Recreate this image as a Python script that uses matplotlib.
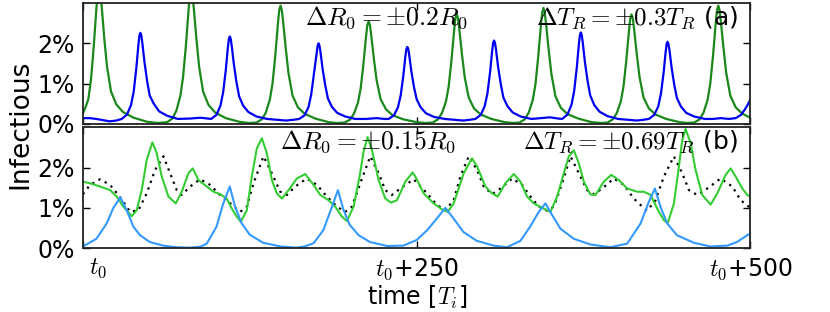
import matplotlib
matplotlib.use('Agg')
import matplotlib.pyplot as plt
import matplotlib.transforms as mtransforms
from matplotlib.ticker import FuncFormatter

plt.rcParams['mathtext.fontset'] = 'cm'
plt.rcParams['font.family'] = ['DejaVu Sans']

# ---- panel (a): infectious fraction in %, time in units of T_i ----
t_a_green = [0, 2, 4, 6, 8, 10, 11, 12, 13, 14, 16, 18, 21, 25, 30, 38, 48, 56,
             63, 67, 70, 73, 75, 77, 79, 80, 81, 82, 83, 85, 87, 90, 94, 99, 107, 117, 124,
             130, 134, 137, 140, 142, 144, 146, 147, 148, 149, 150, 152, 154, 157, 161, 166, 174, 184, 190,
             196, 200, 203, 206, 208, 210, 212, 213, 214, 215, 216, 218, 220, 223, 227, 232, 240, 250, 256,
             262, 266, 269, 272, 274, 276, 278, 279, 280, 281, 282, 284, 286, 289, 293, 298, 306, 316, 322,
             327, 331, 334, 337, 339, 341, 343, 344, 345, 346, 347, 349, 351, 354, 358, 363, 371, 381, 388,
             393, 397, 400, 403, 405, 407, 409, 410, 411, 412, 413, 415, 417, 420, 424, 429, 437, 447, 453,
             458, 462, 465, 468, 470, 472, 474, 475, 476, 477, 478, 480, 482, 485, 489, 494, 500]
y_a_green = [0.26, 0.42, 0.61, 1.1, 1.9, 2.85, 3.26, 3.4, 3.26, 2.92, 2.1, 1.42, 0.8, 0.48, 0.29, 0.15, 0.05, 0.02,
             0.04, 0.13, 0.33, 0.7, 1.17, 1.9, 2.81, 3.22, 3.35, 3.22, 2.88, 2.1, 1.42, 0.8, 0.47, 0.28, 0.14, 0.05, 0.02,
             0.03, 0.11, 0.28, 0.6, 1.0, 1.67, 2.47, 2.82, 2.94, 2.82, 2.52, 1.85, 1.25, 0.7, 0.41, 0.25, 0.13, 0.04, 0.02,
             0.03, 0.1, 0.25, 0.52, 0.87, 1.45, 2.14, 2.45, 2.55, 2.45, 2.19, 1.6, 1.08, 0.61, 0.36, 0.21, 0.11, 0.04, 0.02,
             0.03, 0.11, 0.27, 0.56, 0.93, 1.55, 2.29, 2.62, 2.73, 2.62, 2.34, 1.71, 1.16, 0.65, 0.38, 0.23, 0.12, 0.04, 0.02,
             0.03, 0.11, 0.28, 0.59, 0.98, 1.64, 2.41, 2.76, 2.88, 2.76, 2.47, 1.81, 1.23, 0.68, 0.4, 0.24, 0.13, 0.04, 0.02,
             0.03, 0.11, 0.27, 0.56, 0.93, 1.55, 2.28, 2.61, 2.72, 2.61, 2.33, 1.71, 1.16, 0.65, 0.38, 0.23, 0.12, 0.04, 0.02,
             0.03, 0.11, 0.28, 0.6, 1.0, 1.67, 2.47, 2.82, 2.94, 2.82, 2.52, 1.85, 1.25, 0.7, 0.41, 0.25, 0.15]

t_a_blue = [0, 5, 10, 15, 20, 25, 29, 33, 36, 38, 40, 41.5, 42.3, 43, 43.7, 44.5, 46, 48, 50, 53, 57, 63, 71, 80, 88,
            96, 100, 103, 105, 107, 108.5, 109.3, 110, 110.7, 111.5, 113, 115, 117, 120, 124, 130, 138, 145, 152, 158,
            162, 166, 169, 171, 173, 175, 175.8, 176.5, 177.2, 178, 179.5, 181.5, 183.5, 186.5, 190.5, 196.5, 204, 212, 220, 226,
            229, 233, 236, 238, 240, 241.5, 242.3, 243, 243.7, 244.5, 246, 248, 250, 253, 257, 263, 271, 278, 285, 290,
            294, 298, 301, 303, 305, 306.5, 307.3, 308, 308.7, 309.5, 311, 313, 315, 318, 322, 328, 336, 343, 350, 356,
            359, 363, 366, 368, 370, 371.5, 372.3, 373, 373.7, 374.5, 376, 378, 380, 383, 387, 393, 401, 408, 415, 420,
            424, 428, 431, 433, 435, 436.5, 437.3, 438, 438.7, 439.5, 441, 443, 445, 448, 452, 458, 466, 472, 478, 484,
            489, 493, 496, 498, 500]
y_a_blue = [0.14, 0.14, 0.12, 0.09, 0.06, 0.08, 0.12, 0.23, 0.47, 0.8, 1.4, 1.96, 2.2, 2.26, 2.2, 2.0, 1.55, 1.07,
            0.7, 0.5, 0.31, 0.2, 0.12, 0.13, 0.15,
            0.12, 0.22, 0.45, 0.78, 1.34, 1.88, 2.11, 2.17, 2.11, 1.92, 1.49, 1.03, 0.68, 0.45, 0.29, 0.18, 0.12, 0.1, 0.08, 0.1,
            0.12, 0.21, 0.42, 0.73, 1.24, 1.73, 1.94, 2.0, 1.94, 1.77, 1.37, 0.96, 0.63, 0.42, 0.27, 0.18, 0.12, 0.12, 0.14, 0.12,
            0.12, 0.21, 0.41, 0.7, 1.19, 1.66, 1.86, 1.91, 1.86, 1.69, 1.31, 0.91, 0.61, 0.41, 0.26, 0.17, 0.12, 0.1, 0.08, 0.1,
            0.12, 0.22, 0.44, 0.75, 1.28, 1.79, 2.01, 2.07, 2.01, 1.83, 1.42, 0.99, 0.65, 0.44, 0.28, 0.18, 0.12, 0.14, 0.16, 0.13,
            0.12, 0.23, 0.47, 0.81, 1.4, 1.97, 2.2, 2.27, 2.2, 2.01, 1.55, 1.08, 0.71, 0.47, 0.3, 0.19, 0.12, 0.1, 0.08, 0.1,
            0.12, 0.22, 0.43, 0.74, 1.26, 1.77, 1.98, 2.04, 1.98, 1.81, 1.4, 0.97, 0.64, 0.43, 0.27, 0.18, 0.12, 0.12, 0.14, 0.12,
            0.14, 0.22, 0.36, 0.47, 0.6]

# ---- panel (b) ----
t_b_blue = [0, 10, 17.75, 22.75, 28, 32.75, 37.75, 42.75, 50, 60,
            70, 80, 87.75, 92.75, 100, 105, 110, 114, 119, 125,
            135, 148, 160, 166, 172.75, 180, 186.5, 191, 195.25, 200,
            206.5, 215, 228, 240, 245, 250, 257.75, 265, 271.5, 277.75,
            285, 295, 307.75, 317.75, 327.75, 335, 341.5, 346.5, 351.5, 357.75,
            367.75, 380, 395, 407.75, 417.75, 424, 428.5, 432.75, 437.75, 445,
            457.75, 470, 482.75, 490, 497.75, 500]
y_b_blue = [0.04, 0.23, 0.61, 1.0, 1.26, 0.94, 0.53, 0.32, 0.15, 0.06,
            0.02, 0.01, 0.03, 0.11, 0.53, 1.1, 1.53, 1.02, 0.61, 0.33,
            0.13, 0.04, 0.01, 0.04, 0.12, 0.44, 1.02, 1.44, 0.94, 0.57,
            0.32, 0.15, 0.05, 0.06, 0.13, 0.2, 0.44, 0.73, 1.0, 0.73,
            0.4, 0.18, 0.06, 0.02, 0.18, 0.53, 0.9, 1.11, 0.82, 0.48,
            0.23, 0.09, 0.02, 0.11, 0.61, 1.15, 1.48, 1.02, 0.61, 0.32,
            0.13, 0.04, 0.06, 0.15, 0.32, 0.36]

t_b_green = [0, 5.25, 12.75, 20.25, 25.25, 30.25, 36.5, 40.25, 44, 47.75,
             52, 55.25, 59, 64, 69.5, 74, 79, 82.25, 86.5, 92.75,
             97.75, 102.75, 107.75, 111.5, 115.25, 118.25, 122.75, 126.5, 130.25, 134,
             137.75, 141.5, 145.25, 149, 154, 160.25, 166.5, 172.75, 177.75, 184,
             189, 194, 197.75, 202.75, 207.25, 210.25, 213.25, 216.5, 221.5, 226.5,
             230.75, 235.25, 241.5, 247, 249, 255.25, 262.75, 269, 273.25, 277.75,
             285.25, 291.5, 295.25, 301.5, 306.5, 310.75, 316.5, 322.75, 327.75, 332.75,
             337.75, 344, 350.25, 355.25, 360.25, 364, 367.75, 371.5, 375.25, 380.25,
             384, 390.25, 395.75, 401.5, 407.75, 415.25, 420.25, 425.25, 430.25, 435.25,
             438.25, 442.75, 446.5, 449, 451.5, 455.25, 459, 464, 470.25, 475.25,
             481.5, 485.25, 489, 494, 497.75, 500]
y_b_green = [1.65, 1.61, 1.53, 1.44, 1.28, 1.03, 0.79, 0.94, 1.44, 2.19,
             2.63, 2.36, 1.78, 1.28, 1.11, 1.4, 1.86, 1.98, 1.69, 1.53,
             1.4, 1.34, 1.23, 0.98, 0.78, 0.65, 0.94, 1.78, 2.48, 2.73,
             2.36, 1.69, 1.36, 1.23, 1.44, 1.73, 1.84, 1.57, 1.32, 1.19,
             1.03, 0.78, 0.67, 1.03, 1.78, 2.4, 2.76, 2.44, 1.69, 1.23,
             1.13, 1.19, 1.65, 1.88, 1.78, 1.36, 1.11, 0.96, 0.9, 1.11,
             1.86, 2.23, 2.03, 1.53, 1.36, 1.28, 1.61, 1.84, 1.65, 1.28,
             1.11, 1.0, 0.9, 1.28, 1.86, 2.28, 2.43, 2.11, 1.65, 1.33,
             1.32, 1.65, 1.82, 1.69, 1.48, 1.4, 1.4, 1.32, 0.98, 0.69,
             0.63, 1.11, 2.03, 2.69, 2.96, 2.61, 1.94, 1.32, 1.08, 1.36,
             1.82, 1.98, 1.78, 1.48, 1.32, 1.28]

t_b_dots = [0, 5.25, 12.75, 20.25, 26.5, 32.75, 35.25, 41.5, 47.75, 54,
            60.25, 65.25, 70.25, 74, 80.25, 87.75, 95.25, 102.75, 110.25, 117.75,
            122.75, 127.75, 135.25, 141.5, 147.75, 152.75, 159, 167.75, 175.25, 182.75,
            190.25, 196.5, 201.5, 207.75, 215.25, 221.5, 226.5, 231.5, 237.75, 247.75,
            257.75, 265.25, 271.5, 277.75, 282.75, 289, 295.25, 300.25, 306.5, 312.75,
            321.5, 329, 335.25, 341.5, 347.75, 352.75, 359, 365.25, 371.5, 377.75,
            382.75, 389, 397.75, 405.25, 412.75, 419, 422.75, 429, 435.25, 442.75,
            449, 454, 460.25, 467.75, 477.75, 486.5, 492.75, 500]
y_b_dots = [1.34, 1.57, 1.71, 1.57, 1.32, 1.03, 0.9, 0.94, 1.36, 1.94,
            2.28, 1.86, 1.44, 1.32, 1.53, 1.71, 1.57, 1.32, 1.11, 0.9,
            1.03, 1.61, 2.28, 1.86, 1.4, 1.32, 1.53, 1.73, 1.57, 1.28,
            1.03, 0.9, 1.03, 1.61, 2.28, 1.86, 1.44, 1.32, 1.48, 1.71,
            1.36, 1.07, 0.94, 1.19, 1.78, 2.28, 1.94, 1.53, 1.34, 1.48,
            1.73, 1.57, 1.28, 1.03, 0.93, 1.03, 1.61, 2.28, 1.86, 1.44,
            1.34, 1.48, 1.73, 1.57, 1.23, 1.03, 0.93, 1.19, 1.78, 2.28,
            1.86, 1.44, 1.32, 1.48, 1.73, 1.53, 1.19, 1.0]

x_ticks = [0, 250, 500]
x_ticklabels = ['$t_0$', '$t_0$+250', '$t_0$+500']
y_ticks = [0, 1, 2]

fig = plt.figure(figsize=(8.3, 3.12), dpi=100)
gs = fig.add_gridspec(2, 1, left=0.1, right=0.904, top=0.99, bottom=0.205, hspace=0.03)
ax1 = fig.add_subplot(gs[0])
ax2 = fig.add_subplot(gs[1], sharex=ax1)

ax1.plot(t_a_green, y_a_green, color='#1a881a', lw=1.6)
ax1.plot(t_a_blue, y_a_blue, color='#0000f0', lw=1.6)

ax2.plot(t_b_dots, y_b_dots, color='black', lw=1.6, linestyle=(0, (1, 2.2)))
ax2.plot(t_b_green, y_b_green, color='#33cc33', lw=1.5)
ax2.plot(t_b_blue, y_b_blue, color='#3399ff', lw=1.5)

pct = FuncFormatter(lambda v, p: '%d%%' % v)
for ax in (ax1, ax2):
    ax.set_xlim(0, 500)
    ax.set_ylim(0, 3.0)
    ax.set_yticks(y_ticks)
    ax.yaxis.set_major_formatter(pct)
    ax.tick_params(direction='in', top=True, right=True, length=5, width=1,
                   labelsize=17, pad=6)
    for s in ax.spines.values():
        s.set_linewidth(1.3)
        s.set_color('#222222')

ax2.set_xticks(x_ticks)
ax2.set_xticklabels(x_ticklabels)
# first label sits a little to the right of its tick
lab0 = ax2.get_xticklabels()[0]
lab0.set_horizontalalignment('left')
lab0.set_transform(lab0.get_transform() + mtransforms.ScaledTranslation(4 / 72, 0, fig.dpi_scale_trans))
plt.setp(ax1.get_xticklabels(), visible=False)

ax1.text(0.333, 0.99, r'$\Delta R_0 = \pm 0.2 R_0$', transform=ax1.transAxes,
         ha='left', va='top', fontsize=18.5)
ax1.text(0.982, 0.99, r'$\Delta T_R = \pm 0.3 T_R$ (a)', transform=ax1.transAxes,
         ha='right', va='top', fontsize=18)
ax2.text(0.295, 0.99, r'$\Delta R_0 = \pm 0.15 R_0$', transform=ax2.transAxes,
         ha='left', va='top', fontsize=18.5)
ax2.text(0.982, 0.99, r'$\Delta T_R = \pm 0.69 T_R$ (b)', transform=ax2.transAxes,
         ha='right', va='top', fontsize=18)

ax2.set_xlabel('time [$T_i$]', fontsize=17, labelpad=2)
fig.text(0.025, 0.6, 'Infectious', rotation=90, ha='center', va='center', fontsize=19)

plt.savefig('out.png', dpi=100)
